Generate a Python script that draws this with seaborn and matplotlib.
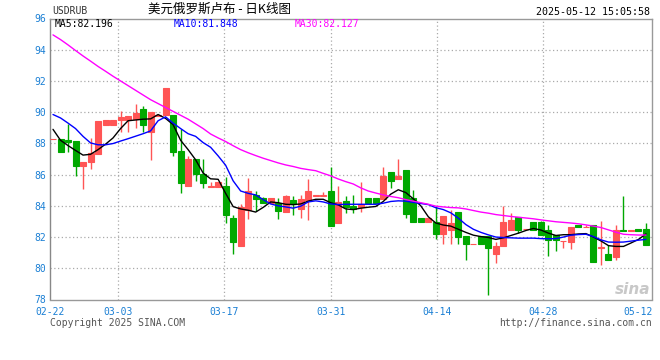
import numpy as np
import pandas as pd
import matplotlib
matplotlib.use("Agg")
import matplotlib.pyplot as plt
import seaborn as sns

# daily candles, 02-22 .. 05-12
opens = [88.25, 88.29, 88.22, 88.16, 86.58, 86.78, 87.33, 89.15, 89.15, 89.47,
         89.47, 89.57, 90.21, 88.76, 89.77, 89.80, 89.83, 87.52, 85.30, 87.03,
         86.07, 85.22, 85.22, 85.27, 83.23, 81.43, 83.75, 84.69, 84.50, 84.20,
         84.21, 83.62, 84.37, 83.80, 84.37, 84.66, 84.66, 84.96, 82.90, 84.31,
         84.00, 83.94, 84.47, 84.47, 84.43, 86.16, 85.71, 86.29, 84.47, 83.21,
         82.97, 82.97, 82.18, 82.44, 83.61, 82.05, 81.56, 82.05, 82.05, 80.92,
         81.40, 82.47, 83.26, 82.49, 82.94, 82.94, 82.47, 82.15, 81.72, 81.70,
         82.79, 82.64, 82.79, 81.32, 80.94, 80.70, 82.42, 82.41, 82.51, 82.51]
highs = [88.29, 88.29, 89.27, 88.16, 86.80, 88.33, 89.44, 89.51, 89.51, 90.09,
         89.77, 90.51, 90.41, 90.00, 89.81, 91.58, 89.83, 88.91, 87.20, 87.03,
         87.00, 85.54, 85.52, 85.83, 83.40, 84.10, 85.76, 84.95, 84.55, 84.47,
         84.53, 84.69, 84.63, 84.72, 85.71, 84.68, 84.87, 86.50, 85.26, 84.60,
         84.68, 85.54, 84.47, 84.47, 86.50, 86.16, 86.99, 86.29, 85.00, 83.21,
         83.21, 84.00, 83.34, 83.72, 83.61, 82.05, 81.58, 82.05, 82.05, 81.69,
         84.00, 83.57, 83.26, 82.51, 82.94, 83.04, 82.79, 82.15, 81.74, 82.66,
         82.79, 82.79, 82.79, 83.00, 81.51, 82.79, 84.64, 82.47, 82.51, 82.89]
lows = [88.25, 87.48, 87.45, 85.94, 85.09, 86.37, 87.33, 89.15, 89.15, 88.70,
        88.76, 88.97, 88.72, 86.95, 89.77, 89.80, 87.22, 84.85, 85.30, 85.60,
        85.12, 85.22, 85.22, 82.92, 80.92, 81.43, 83.18, 83.66, 84.19, 84.20,
        83.18, 83.62, 83.40, 83.20, 83.08, 84.66, 84.66, 82.70, 82.90, 83.55,
        83.57, 83.61, 84.15, 84.15, 84.43, 85.15, 85.71, 83.23, 82.97, 82.97,
        82.97, 81.86, 81.54, 81.54, 81.54, 80.51, 81.56, 81.54, 78.27, 80.34,
        81.40, 82.47, 82.26, 82.49, 82.47, 82.15, 80.77, 81.09, 81.32, 81.26,
        82.62, 82.64, 80.38, 80.19, 80.51, 80.55, 82.36, 82.41, 82.36, 81.47]
closes = [88.29, 87.48, 88.07, 86.58, 86.80, 87.37, 89.44, 89.51, 89.51, 89.66,
          89.77, 89.94, 89.19, 90.00, 89.81, 91.58, 87.48, 85.49, 87.03, 86.05,
          85.48, 85.26, 85.52, 83.40, 81.69, 83.94, 84.95, 84.45, 84.20, 84.47,
          83.68, 84.64, 84.11, 84.43, 84.96, 84.68, 84.68, 82.70, 84.23, 83.93,
          83.79, 84.09, 84.15, 84.15, 85.90, 85.60, 85.90, 83.47, 82.97, 82.97,
          83.21, 82.18, 83.34, 82.91, 82.01, 81.54, 81.58, 81.54, 81.30, 81.44,
          82.94, 83.11, 82.47, 82.51, 82.47, 82.15, 81.83, 81.83, 81.74, 82.66,
          82.62, 82.66, 80.38, 81.34, 80.51, 82.43, 82.38, 82.43, 82.36, 81.47]

# moving average lines
ma5 = [88.90, 88.20, 87.86, 87.55, 87.25, 87.30, 87.60, 87.95, 88.35, 88.95,
       89.45, 89.50, 89.55, 89.57, 89.85, 89.60, 89.20, 88.20, 87.60, 86.95,
       86.10, 85.73, 85.70, 84.80, 83.95, 83.80, 83.72, 83.60, 83.90, 84.25,
       84.20, 84.10, 84.08, 84.12, 84.30, 84.42, 84.42, 84.20, 84.06, 83.80,
       83.76, 83.85, 83.91, 83.96, 84.28, 84.75, 85.03, 84.85, 84.45, 84.00,
       83.30, 82.90, 82.77, 82.70, 82.50, 82.30, 82.12, 82.03, 81.97, 81.85,
       81.95, 82.10, 82.25, 82.42, 82.55, 82.45, 82.25, 82.10, 82.15, 82.15,
       82.20, 82.22, 82.00, 81.75, 81.45, 81.40, 81.40, 81.62, 81.85, 82.20]
ma10 = [89.85, 89.63, 89.30, 88.95, 88.45, 88.03, 87.91, 87.91, 87.99, 88.15,
        88.30, 88.46, 88.62, 88.80, 89.45, 89.70, 89.30, 88.95, 88.62, 88.45,
        88.05, 87.75, 87.20, 86.60, 85.60, 84.95, 84.80, 84.70, 84.40, 84.12,
        84.00, 83.93, 83.85, 83.98, 84.25, 84.32, 84.25, 84.12, 84.08, 84.10,
        84.10, 84.10, 84.10, 84.10, 84.17, 84.28, 84.32, 84.30, 84.22, 84.15,
        84.08, 83.88, 83.76, 83.55, 83.21, 82.80, 82.50, 82.30, 82.14, 82.00,
        81.97, 81.95, 81.93, 81.93, 81.93, 81.90, 81.89, 81.90, 82.00, 82.12,
        82.16, 82.18, 82.03, 81.82, 81.68, 81.67, 81.68, 81.74, 81.80, 81.85]
ma30 = [94.95, 94.65, 94.31, 93.95, 93.60, 93.27, 92.93, 92.62, 92.30, 92.00,
        91.70, 91.40, 91.10, 90.80, 90.55, 90.30, 90.05, 89.80, 89.55, 89.25,
        88.95, 88.60, 88.35, 88.12, 87.85, 87.60, 87.40, 87.22, 87.05, 86.90,
        86.75, 86.62, 86.52, 86.40, 86.32, 86.25, 86.08, 85.92, 85.72, 85.55,
        85.40, 85.15, 84.95, 84.82, 84.70, 84.60, 84.52, 84.40, 84.30, 84.20,
        84.10, 83.98, 83.93, 83.89, 83.87, 83.80, 83.70, 83.60, 83.53, 83.44,
        83.38, 83.32, 83.27, 83.22, 83.17, 83.10, 83.04, 82.98, 82.94, 82.90,
        82.85, 82.78, 82.70, 82.61, 82.46, 82.31, 82.18, 82.15, 82.13, 82.13]

date_labels = ["02-22", "03-03", "03-17", "03-31", "04-14", "04-28", "05-12"]
ma_last = [("MA5", 82.196), ("MA10", 81.848), ("MA30", 82.127)]

RED = "#ff5555"
GREEN = "#00a800"
TICK_BLUE = "#1a7fd4"
MA_COLORS = ["black", "#0000ff", "#ff00ff"]

df = pd.DataFrame({"open": opens, "high": highs, "low": lows, "close": closes,
                   "ma5": ma5, "ma10": ma10, "ma30": ma30})
df["i"] = np.arange(len(df))
df["color"] = np.where(df["close"] >= df["open"], RED, GREEN)

sns.set_style("white")
plt.rcParams["font.family"] = ["DejaVu Sans Mono", "Noto Sans CJK SC"]

W, H = 660, 360
fig = plt.figure(figsize=(W / 100, H / 100), dpi=100)
ax = fig.add_axes([50 / W, 1 - 299.5 / H, 602 / W, 281 / H])

# grid
for v in range(80, 96, 2):
    ax.axhline(v, color="#aaaaaa", lw=0.9, ls=(0, (1, 2)), zorder=0)
grid_x = [8.66, 22.78, 37.0, 51.16, 65.28]
for gx in grid_x:
    ax.axvline(gx, color="#aaaaaa", lw=0.9, ls=(0, (1, 2)), zorder=0)

# candles
ax.vlines(df["i"], df["low"], df["high"], colors=df["color"], lw=1, zorder=2)
body_lo = df[["open", "close"]].min(axis=1)
body_h = (df["close"] - df["open"]).abs()
ax.bar(df["i"], body_h, bottom=body_lo, width=0.8, color=df["color"],
       edgecolor=df["color"], linewidth=0.8, zorder=3)

# moving averages
for col, c in zip(["ma5", "ma10", "ma30"], MA_COLORS):
    sns.lineplot(data=df, x="i", y=col, color=c, lw=1, ax=ax, zorder=4)

ax.set_xlim(-0.4, 79.8)
ax.set_ylim(78, 96)
ax.set_yticks(range(78, 97, 2))
ax.set_xticks([-0.4] + grid_x + [77.94])
ax.set_xticklabels(date_labels)
ax.set_xlabel("")
ax.set_ylabel("")
ax.tick_params(length=0, labelsize=7, labelcolor=TICK_BLUE)
ax.tick_params(axis="x", pad=5.5)
ax.tick_params(axis="y", pad=3)
for s in ax.spines.values():
    s.set_color("#999999")
    s.set_linewidth(1)
ax.spines["left"].set_color("#888888")

# header texts
fig.text(52 / W, 1 - 11.5 / H, "USDRUB", fontsize=7, color="#333333",
         ha="left", va="center")
fig.text(220 / W, 1 - 9.5 / H, "美元俄罗斯卢布 - 日K线图", fontsize=9,
         color="black", ha="center", va="center",
         family=["Noto Sans CJK SC", "DejaVu Sans"])
fig.text(650 / W, 1 - 12 / H, "2025-05-12 15:05:58", fontsize=7.2,
         color="black", ha="right", va="center")
for (name, val), c, x in zip(ma_last, MA_COLORS, [55, 174, 295]):
    fig.text(x / W, 1 - 24 / H, f"{name}:{val:.3f}", fontsize=7, color=c,
             ha="left", va="center")

# footer
fig.text(50 / W, 1 - 323 / H, "Copyright 2025 SINA.COM", fontsize=7,
         color="#555555", ha="left", va="center")
fig.text(652 / W, 1 - 323 / H, "http://finance.sina.com.cn", fontsize=7,
         color="#555555", ha="right", va="center")
fig.text(633 / W, 1 - 290 / H, "sina", fontsize=11, color="#c8c8c8",
         ha="center", va="center", style="italic", weight="bold",
         family="DejaVu Sans")

fig.savefig("out.png", dpi=100)
